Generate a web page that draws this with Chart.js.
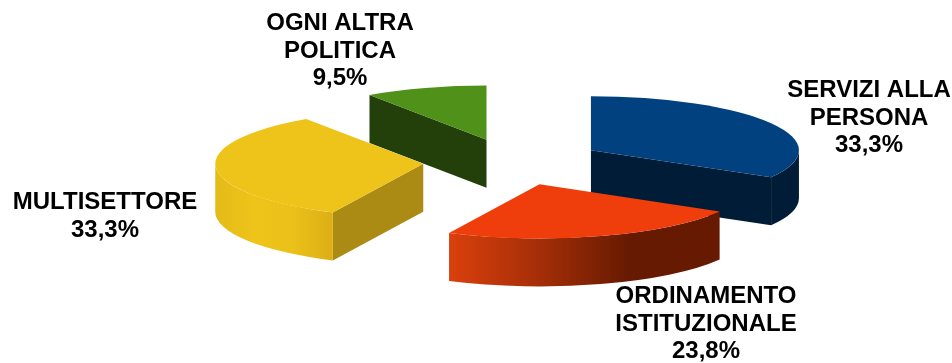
<!DOCTYPE html>
<html>
<head>
<meta charset="utf-8">
<title>Ripartizione per settore</title>
<script src="https://cdn.jsdelivr.net/npm/chart.js@4/dist/chart.umd.min.js"></script>
<style>
  html, body { margin: 0; padding: 0; background: #fff; }
  canvas { display: block; }
</style>
</head>
<body>
<canvas id="torta" width="952" height="363"></canvas>
<script>
const categorie = [
  ['SERVIZI ALLA', 'PERSONA'],
  ['ORDINAMENTO', 'ISTITUZIONALE'],
  ['MULTISETTORE'],
  ['OGNI ALTRA', 'POLITICA']
];
const valori = [33.3, 23.8, 33.3, 9.5];

const coloriSopra = ['#024180', '#EF3E0B', '#EEC41A', '#4F9119'];
const coloriTaglio = ['#011C36', '#661A00', '#AB8B13', '#233F0A'];
const coloriBordo = [
  ['#011C36', '#011C36'],
  ['#DA400C', '#A52E08', '#661A01', '#661A01'],
  ['#E4BA18', '#EEC41A', '#EBC019', '#DBAF15'],
  ['#233F0A', '#233F0A']
];

// 3D look: flatten the pie, pull the slices apart, extrude them downwards
const schiacciamento = 0.26;
const spessore = 48;
const esplosione = 90;
const ordineDisegno = [3, 0, 2, 1];

// centre x and first baseline of each label block
const posEtichette = [[869, 97], [706, 303], [105, 209], [340, 30]];
const interlinea = 27.6;

function percentuale(v) {
  return v.toFixed(1).replace('.', ',') + '%';
}

function centroFetta(arc, cy) {
  const mezzo = (arc.startAngle + arc.endAngle) / 2;
  return {
    x: arc.x + Math.cos(mezzo) * esplosione,
    y: cy + Math.sin(mezzo) * esplosione * schiacciamento
  };
}

function disegnaFaccia(ctx, c, angolo, r, colore) {
  const px = c.x + Math.cos(angolo) * r;
  const py = c.y + Math.sin(angolo) * r * schiacciamento;
  ctx.beginPath();
  ctx.moveTo(c.x, c.y);
  ctx.lineTo(px, py);
  ctx.lineTo(px, py + spessore);
  ctx.lineTo(c.x, c.y + spessore);
  ctx.closePath();
  ctx.fillStyle = colore;
  ctx.fill();
}

function disegnaBordo(ctx, c, da, a, r, colori) {
  // only the part of the rim facing the viewer, 0..PI on the canvas
  const inizio = Math.max(da, 0);
  const fine = Math.min(a, Math.PI);
  if (fine <= inizio) return;
  const rY = r * schiacciamento;
  const x0 = c.x + Math.cos(fine) * r;
  const x1 = c.x + Math.cos(inizio) * r;
  const grad = ctx.createLinearGradient(x0, 0, x1, 0);
  colori.forEach((col, i) => grad.addColorStop(i / (colori.length - 1), col));
  ctx.beginPath();
  ctx.ellipse(c.x, c.y, r, rY, 0, inizio, fine);
  ctx.ellipse(c.x, c.y + spessore, r, rY, 0, fine, inizio, true);
  ctx.closePath();
  ctx.fillStyle = grad;
  ctx.fill();
}

const torta3d = {
  id: 'torta3d',
  beforeDatasetDraw(chart, args) {
    const ctx = chart.ctx;
    const archi = args.meta.data;
    ordineDisegno.forEach(i => {
      const arc = archi[i];
      const cy = arc.y;
      const c = centroFetta(arc, cy);
      const da = arc.startAngle;
      const a = arc.endAngle;

      if (Math.sin(da - Math.PI / 2) > 0) {
        disegnaFaccia(ctx, c, da, arc.outerRadius, coloriTaglio[i]);
      }
      if (Math.sin(a + Math.PI / 2) > 0) {
        disegnaFaccia(ctx, c, a, arc.outerRadius, coloriTaglio[i]);
      }
      disegnaBordo(ctx, c, da, a, arc.outerRadius, coloriBordo[i]);

      // top surface is the library's own arc, drawn in the flattened space
      ctx.save();
      ctx.translate(c.x - arc.x, c.y);
      ctx.scale(1, schiacciamento);
      ctx.translate(0, -cy);
      arc.draw(ctx);
      ctx.restore();
    });
    return false;
  },
  afterDraw(chart) {
    const ctx = chart.ctx;
    ctx.save();
    ctx.fillStyle = '#000';
    ctx.font = 'bold 24px "Liberation Sans", Arial, sans-serif';
    ctx.textAlign = 'center';
    ctx.textBaseline = 'alphabetic';
    categorie.forEach((righe, i) => {
      const testo = righe.concat(percentuale(valori[i]));
      testo.forEach((riga, n) => {
        ctx.fillText(riga, posEtichette[i][0], posEtichette[i][1] + n * interlinea);
      });
    });
    ctx.restore();
  }
};

new Chart(document.getElementById('torta'), {
  type: 'pie',
  data: {
    labels: categorie,
    datasets: [{
      data: valori,
      backgroundColor: coloriSopra,
      borderWidth: 0
    }]
  },
  options: {
    responsive: false,
    animation: false,
    radius: 208,
    layout: { padding: { left: 74, bottom: 39 } },
    plugins: { legend: { display: false }, tooltip: { enabled: false } }
  },
  plugins: [torta3d]
});
</script>
</body>
</html>
